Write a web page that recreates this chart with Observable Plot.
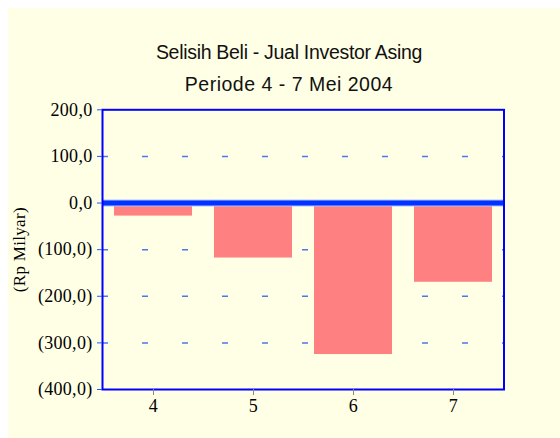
<!DOCTYPE html>
<html>
<head>
<meta charset="utf-8">
<script src="https://cdn.jsdelivr.net/npm/d3@7"></script>
<script src="https://cdn.jsdelivr.net/npm/@observablehq/plot@0.6"></script>
<style>
  html, body { margin: 0; padding: 0; background: #ffffff; }
  #box { position: absolute; left: 8px; top: 8px; width: 552px; height: 430px; background: #ffffe6; overflow: hidden; }
  #title { box-sizing: border-box; height: 82px; width: 562px; padding-top: 28px; text-align: center;
           font-family: "Liberation Sans", Arial, sans-serif; font-size: 19.5px; line-height: 32px; color: #111; }
  #title .l1 { letter-spacing: -0.3px; }
  #title .l2 { letter-spacing: 0.5px; }
  svg { display: block; }
</style>
</head>
<body>
<div id="box">
  <div id="title"><div class="l1">Selisih Beli - Jual Investor Asing</div><div class="l2">Periode 4 - 7 Mei 2004</div></div>
  <div id="chart"></div>
</div>
<script>
const days = [4, 5, 6, 7];
const netValues = [-28, -118, -325, -170];
const yTicks = [200, 100, 0, -100, -200, -300, -400];
const gridValues = [100, -100, -200, -300];
const yLabel = "(Rp Milyar)";

const data = days.map((d, i) => ({day: d, value: netValues[i]}));
const fmt = v => {
  const s = Math.abs(v).toFixed(1).replace(".", ",");
  return v < 0 ? `(${s})` : s;
};

const chart = Plot.plot({
  width: 552,
  height: 348,
  marginLeft: 94,
  marginRight: 56.5,
  marginTop: 19.3,
  marginBottom: 49,
  style: {fontFamily: "'Liberation Serif', 'Times New Roman', serif", fontSize: "18px", background: "transparent", color: "black", letterSpacing: "0.3px"},
  x: {type: "band", domain: days, paddingInner: 0.22, paddingOuter: 0.11, label: null},
  y: {domain: [-400, 200], label: null},
  marks: [
    Plot.ruleY(gridValues, {stroke: "#4a78f0", strokeWidth: 1.5, strokeDasharray: "6,34"}),
    Plot.barY(data, {x: "day", y: "value", fill: "#ff8080"}),
    Plot.ruleY([0], {stroke: "#b0bfff", strokeWidth: 7}),
    Plot.ruleY([0], {stroke: "#0033ff", strokeWidth: 5}),
    Plot.frame({stroke: "#0000ff", strokeWidth: 2}),
    Plot.axisY({ticks: yTicks, tickFormat: fmt, tickSize: 5, tickPadding: 5, stroke: "#2255ff", fill: "black", label: null}),
    Plot.axisX({tickSize: 6, tickPadding: 4, stroke: "#888888", fill: "black", label: null}),
    Plot.text([yLabel], {frameAnchor: "left", dx: -83, rotate: -90, textAnchor: "middle", lineAnchor: "middle", fill: "black", fontSize: 17})
  ]
});
document.getElementById("chart").appendChild(chart);
</script>
</body>
</html>
